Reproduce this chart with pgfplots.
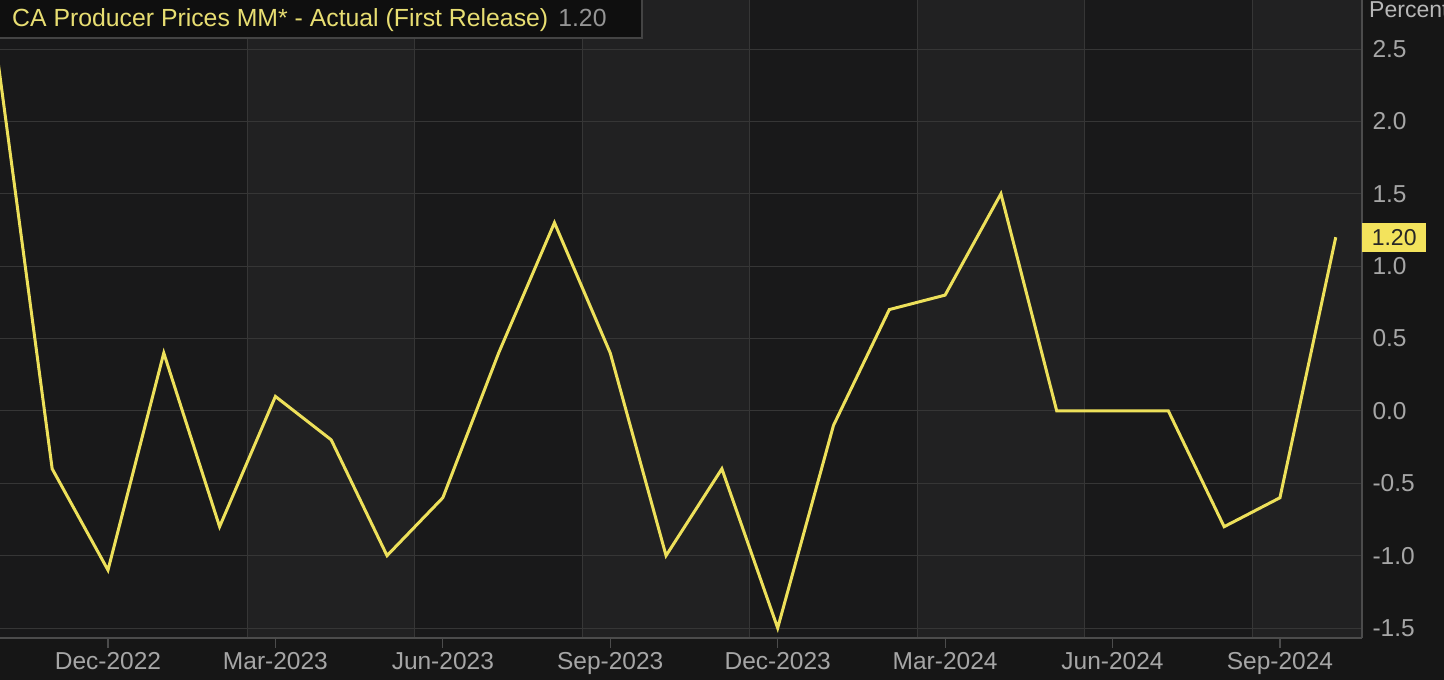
\documentclass[border=0pt]{standalone}
\usepackage{fontspec}
\setmainfont{Liberation Sans}
\usepackage{pgfplots}
\pgfplotsset{compat=1.18}
\definecolor{outerbg}{HTML}{161616}
\definecolor{plotbg}{HTML}{19191A}
\definecolor{bandlight}{HTML}{212122}
\definecolor{gridgray}{HTML}{363636}
\definecolor{axisgray}{HTML}{4C4C4C}
\definecolor{labelgray}{HTML}{A6A6A6}
\definecolor{lineyellow}{HTML}{EDE05A}
\definecolor{titleyellow}{HTML}{E8DE72}
\definecolor{titlebg}{HTML}{0F0F0F}
\definecolor{titleborder}{HTML}{444444}
\definecolor{tagyellow}{HTML}{F3E35C}
\pgfplotstableread{
i v
0 2.5
1 -0.4
2 -1.1
3 0.4
4 -0.8
5 0.1
6 -0.2
7 -1.0
8 -0.6
9 0.4
10 1.3
11 0.4
12 -1.0
13 -0.4
14 -1.5
15 -0.1
16 0.7
17 0.8
18 1.5
19 0.0
20 0.0
21 0.0
22 -0.8
23 -0.6
24 1.2
}\ppi
\begin{document}
\begin{tikzpicture}
\useasboundingbox (0pt,0pt) rectangle (1444pt,680pt);
\fill[outerbg] (0pt,0pt) rectangle (1444pt,680pt);
\fill[plotbg] (0pt,42pt) rectangle (1362pt,680pt);
\fill[bandlight] (247.5pt,42pt) rectangle (415pt,680pt);
\fill[bandlight] (582.4pt,42pt) rectangle (749.8pt,680pt);
\fill[bandlight] (917.2pt,42pt) rectangle (1084.7pt,680pt);
\fill[bandlight] (1252.1pt,42pt) rectangle (1362pt,680pt);
\begin{axis}[
  at={(0pt,42pt)}, anchor=south west,
  scale only axis, width=1362pt, height=638pt,
  xmin=0.065, xmax=24.47, ymin=-1.569, ymax=2.839,
  clip mode=individual,
  axis x line*=bottom, axis y line*=right,
  axis line style={draw=axisgray, line width=1.2pt, -},
  xtick={2,5,8,11,14,17,20,23},
  xticklabels={Dec-2022,Mar-2023,Jun-2023,Sep-2023,Dec-2023,Mar-2024,Jun-2024,Sep-2024},
  minor xtick={4.5,7.5,10.5,13.5,16.5,19.5,22.5},
  xminorgrids=true,
  minor tick length=0pt,
  ytick={-1.5,-1,-0.5,0,0.5,1,1.5,2,2.5},
  ymajorgrids=true,
  grid style={draw=gridgray, line width=1pt},
  minor grid style={draw=gridgray, line width=1pt},
  tick align=outside,
  major tick length=10pt,
  x tick style={draw=axisgray, line width=1.2pt},
  y tick style={draw=none},
  yticklabel style={anchor=west, xshift=-3pt},
  xticklabel style={yshift=-1pt},
  tick label style={font=\fontsize{24.5}{27}\selectfont, text=labelgray},
  /pgf/number format/.cd, fixed, fixed zerofill, precision=1, assume math mode=true,
]
\addplot[lineyellow, line width=3pt, line join=miter, no markers] table[x=i, y=v] {\ppi};
\node[fill=tagyellow, anchor=west, text=black!85, font=\fontsize{23}{25}\selectfont,
      minimum width=64pt, minimum height=29pt, inner sep=2pt] at (axis cs:24.47,1.2) {1.20};
\end{axis}
\fill[titlebg] (-2pt,642pt) rectangle (642pt,682pt);
\draw[titleborder, line width=1.2pt] (-2pt,642pt) rectangle (642pt,682pt);
\node[anchor=base west, inner sep=0pt, font=\fontsize{24.8}{27}\selectfont] at (12pt,653pt)
  {\textcolor{titleyellow}{CA Producer Prices MM* - Actual (First Release)}\hspace{10pt}\textcolor{labelgray!120}{1.20}};
\node[anchor=base west, inner sep=0pt, font=\fontsize{23}{25}\selectfont, text=labelgray!80] at (1369pt,662pt) {Percent};
\end{tikzpicture}
\end{document}
